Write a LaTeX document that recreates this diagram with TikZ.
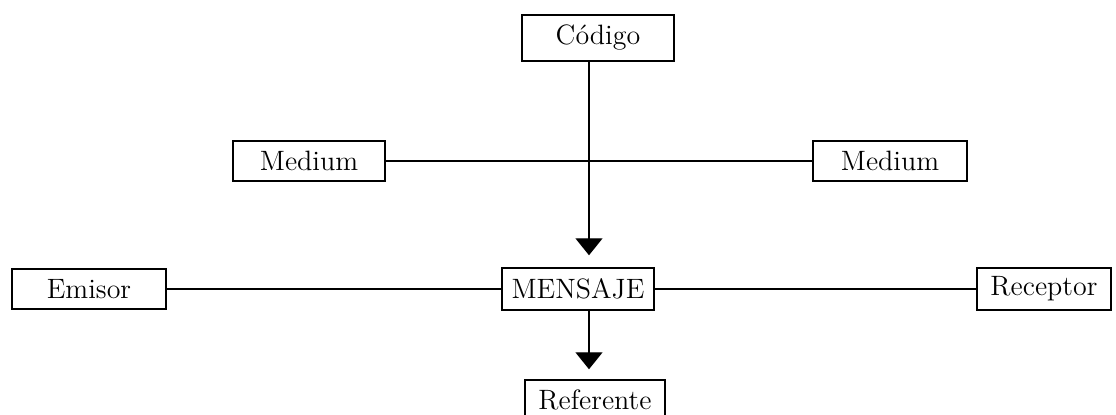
\documentclass[tikz,border=0pt]{standalone}
\usepackage{fontspec}
\usetikzlibrary{arrows.meta, calc}

\begin{document}
\begin{tikzpicture}[
  x=0.5pt, y=-0.5pt, font=\fontsize{14}{16}\selectfont,
  box/.style={rectangle, draw=black, line width=0.7pt, fill=white, minimum width=76pt, minimum height=20pt, align=center, inner sep=2pt},
  wire/.style={draw=black, line width=0.7pt},
  arr/.style={wire, -{Triangle[width=13.5pt, length=8.5pt]}}]
\useasboundingbox (0,0) rectangle (1116,415);
\node[box, minimum height=23pt] (codigo) at (598,38) {Código};
\node[box] (mediuml) at (309,161) {Medium};
\node[box, minimum width=77pt] (mediumr) at (890,161) {Medium};
\node[box, minimum width=77pt] (emisor) at (89,289) {Emisor};
\node[box, minimum height=21pt] (mensaje) at (578,289) {MENSAJE};
\node[box, minimum width=67pt, minimum height=21pt] (receptor) at (1044,289) {Receptor};
\node[box, minimum width=70pt] (referente) at (595,400) {Referente};
\draw[wire] (mediuml) -- (mediumr);
\draw[arr, shorten >=6pt] ([xshift=-4.5pt]codigo.south) -- ([xshift=5.5pt]mensaje.north);
\draw[wire] (emisor) -- (mensaje);
\draw[wire] (mensaje) -- (receptor);
\draw[arr, shorten >=5pt] ([xshift=5.5pt]mensaje.south) -- ([xshift=-3pt]referente.north);
\end{tikzpicture}
\end{document}
